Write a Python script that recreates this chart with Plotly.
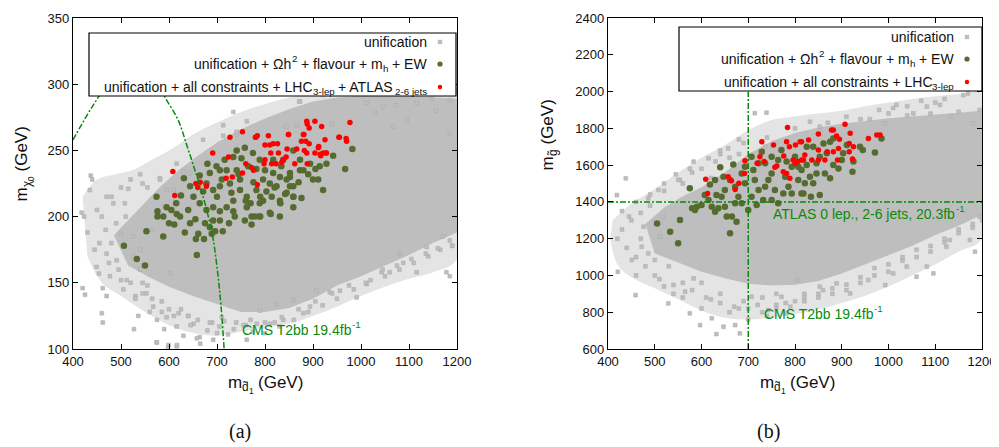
import plotly.graph_objects as go

# ---------------- Panel (a): m_d1 vs m_chi0 ----------------
# outline of the dense core of the "unification" cloud
a_core_x = [485, 540, 580, 620, 660, 700, 750, 800, 850, 900, 950, 1000, 1050, 1100, 1150, 1200,
            1200, 1150, 1100, 1050, 1000, 950, 900, 850, 800, 750, 700, 650, 600, 560, 515]
a_core_y = [186, 207, 222, 235, 246, 256, 266, 274, 281, 287, 290, 291, 292, 291, 290, 289,
            188, 180, 171, 163, 155, 148, 138, 131, 128, 128, 134, 140, 147, 154, 163]
# outline of the sparser halo of the cloud
a_halo_x = [420, 450, 490, 530, 570, 610, 650, 700, 750, 800, 850, 900, 950, 1000, 1050, 1100, 1150, 1200,
            1200, 1150, 1100, 1050, 1000, 950, 900, 850, 800, 750, 700, 650, 600, 550, 500, 460, 430]
a_halo_y = [215, 228, 232, 236, 244, 252, 262, 271, 279, 285, 290, 293, 296, 298, 300, 300, 300, 300,
            168, 158, 153, 147, 140, 132, 125, 119, 116, 113, 110, 112, 118, 128, 140, 150, 170]
# sparse "unification" points
a_grey_x = [423, 425, 454, 440, 462, 462, 418, 437, 420, 460, 449, 470, 484, 508, 515, 555, 500, 536, 527,
            574, 599, 616, 567, 595, 616, 651, 664, 692, 705, 730, 734, 741, 713, 671, 616, 581, 873, 845,
            602, 553, 512, 491, 477, 871, 1012, 1029, 1046, 1074, 1116, 1147, 1185, 1157, 1185, 1095, 1067,
            1185, 1178, 1116, 1088, 1060, 1043, 991, 956, 935, 894, 880, 859, 838, 810, 783, 790, 824, 907,
            1012, 1081, 1137, 1171, 762, 575, 598, 617, 658, 723, 762, 713, 741, 866, 939, 630, 581, 595, 644,
            1195, 1170, 1130, 1060, 980, 920, 1000, 1105, 1190, 640, 690, 760, 820, 545, 530, 585, 625,
            430, 445, 468, 480, 495, 505, 520, 530, 545, 560, 575, 590, 610, 630, 645, 665, 680, 700, 715,
            735, 755, 775, 800, 830, 860, 890, 920, 950, 985, 1020, 1050, 1080, 1110, 1140, 1165, 1190,
            1100, 1060, 1030, 1180, 480, 500, 520, 540, 460, 475, 540, 565, 590, 610,
            435, 450, 470, 490, 510, 525, 540, 555, 565, 585, 600, 620, 640, 660, 685, 710, 740, 770, 800,
            835, 870, 905, 940, 975, 1010, 1045, 1075, 1105, 1135, 1160, 1185, 1000, 960, 1120, 1150, 470,
            500, 455, 525, 545]
a_grey_y = [200, 141, 157, 228, 146, 120, 203, 231, 146, 127, 162, 172, 210, 210, 221, 222, 187, 125, 115,
            105, 103, 102, 132, 124, 117, 119, 109, 107, 117, 244, 279, 262, 261, 258, 240, 229, 287, 268,
            157, 142, 152, 167, 155, 287, 286, 279, 283, 284, 286, 289, 288, 280, 263, 273, 268,
            155, 158, 158, 165, 158, 158, 139, 144, 143, 132, 127, 137, 122, 119, 119, 129, 134, 144,
            149, 172, 177, 185, 107, 105, 101, 103, 108, 111, 272, 269, 264, 269, 270, 234, 228, 220, 233,
            295, 300, 296, 293, 297, 292, 294, 298, 178, 125, 120, 118, 120, 150, 140, 128, 130,
            188, 175, 190, 180, 160, 145, 150, 138, 142, 128, 122, 115, 125, 110, 118, 104, 114, 112, 121,
            115, 118, 113, 112, 117, 122, 128, 133, 138, 145, 152, 155, 160, 165, 170, 175, 178,
            302, 303, 299, 296, 215, 222, 228, 232, 200, 165, 175, 190, 208, 220,
            220, 205, 215, 195, 200, 170, 160, 148, 138, 136, 130, 127, 125, 122, 120, 124, 120, 122, 120,
            124, 130, 136, 142, 148, 150, 160, 163, 168, 172, 176, 182, 300, 296, 298, 299, 140,
            152, 180, 185, 225]
# unification + Omega h^2 + flavour + m_h + EW
a_green_x = [506, 533, 550, 553, 574, 576, 576, 588, 611, 616, 615, 633, 631, 658, 656, 661, 673, 689, 696,
             712, 725, 737, 758, 772, 788, 810, 831, 859, 832, 814, 803, 782, 762, 748, 734, 720, 706, 692,
             678, 664, 651, 644, 664, 685, 699, 716, 734, 751, 765, 782, 800, 817, 834, 852, 873, 859, 845,
             824, 796, 776, 748, 727, 706, 692, 671, 741, 720, 678, 692, 675, 734, 762, 789, 859, 873, 859,
             817, 789, 775, 758, 741, 706, 588, 595, 605, 623, 644, 685, 706, 982, 967, 942, 928, 921, 911,
             900, 876, 859, 852, 842, 831, 812, 796, 790, 772, 779, 852, 880, 894, 831, 810, 914, 838,
             640, 655, 700, 730, 760, 790, 820, 845, 870, 890, 905, 625, 600, 680, 710, 745, 770]
a_green_y = [178, 168, 163, 189, 215, 204, 200, 200, 194, 202, 210, 188, 229, 171, 183, 187, 183, 187, 189,
             189, 195, 200, 197, 200, 200, 203, 200, 207, 210, 215, 219, 220, 215, 220, 212, 207, 204, 207,
             205, 210, 215, 223, 231, 233, 238, 243, 245, 244, 238, 236, 235, 233, 238, 230, 235, 223, 218,
             223, 228, 226, 228, 225, 223, 220, 219, 235, 235, 225, 197, 195, 204, 207, 210, 215, 243, 250,
             243, 243, 248, 252, 250, 235, 185, 207, 205, 200, 195, 192, 197, 251, 236, 246, 240, 220, 228,
             228, 214, 215, 223, 217, 212, 202, 212, 200, 194, 200, 233, 235, 240, 230, 225, 238, 243,
             205, 198, 215, 218, 212, 215, 222, 228, 226, 232, 236, 216, 195, 240, 228, 232, 210]
# unification + all constraints + LHC_3-lep + ATLAS_2-6 jets
a_red_x = [608, 612, 656, 665, 678, 660, 691, 727, 753, 724, 719, 732, 760, 753, 772, 776, 784, 780, 784, 807,
           800, 810, 817, 826, 828, 812, 800, 798, 814, 823, 838, 844, 835, 849, 846, 866, 862, 881, 876, 885,
           892, 882, 887, 888, 904, 911, 915, 921, 927, 887, 904, 918, 954, 969, 888, 892, 955, 970, 977, 925,
           912, 916, 928, 781, 849, 880]
a_red_y = [234, 216, 225, 226, 223, 222, 248, 260, 264, 245, 229, 230, 240, 233, 237, 235, 224, 260, 261, 261,
           254, 254, 255, 255, 248, 248, 243, 240, 240, 240, 243, 245, 241, 262, 251, 251, 240, 262, 257, 257,
           255, 250, 248, 240, 248, 252, 247, 248, 248, 272, 272, 268, 260, 259, 270, 267, 260, 257, 271, 258,
           253, 246, 248, 260, 262, 262]
# CMS T2bb 19.4 fb^-1 exclusion contour
a_cms_x = [400, 430, 456, 490, 520, 550, 575, 592, 619, 637, 654, 668, 682, 692, 706, 715]
a_cms_y = [258, 277, 292, 310, 318, 315, 303, 290, 273, 254, 235, 219, 200, 183, 142, 99]

# ---------------- Panel (b): m_d1 vs m_gluino ----------------
b_core_x = [480, 520, 560, 600, 650, 700, 750, 800, 850, 900, 950, 1000, 1050, 1100, 1150, 1200,
            1200, 1150, 1100, 1050, 1000, 950, 900, 850, 800, 750, 700, 650, 600, 550, 500]
b_core_y = [1280, 1370, 1430, 1480, 1560, 1660, 1730, 1775, 1805, 1825, 1840, 1855, 1865, 1875, 1885, 1895,
            1330, 1270, 1220, 1160, 1110, 1060, 1010, 970, 950, 945, 955, 985, 1020, 1070, 1120]
b_halo_x = [410, 450, 500, 550, 600, 650, 700, 750, 800, 850, 900, 950, 1000, 1050, 1100, 1150, 1200,
            1200, 1150, 1100, 1050, 1000, 950, 900, 850, 800, 750, 700, 650, 600, 550, 500, 450, 420, 405]
b_halo_y = [1300, 1390, 1470, 1560, 1640, 1710, 1790, 1845, 1865, 1880, 1895, 1920, 1940, 1960, 1975, 1985, 1990,
            1200, 1130, 1060, 1000, 940, 890, 850, 815, 790, 770, 760, 770, 810, 870, 930, 990, 1060, 1200]
b_grey_x = [419, 438, 421, 451, 459, 476, 486, 508, 518, 529, 540, 554, 583, 583, 565, 575, 597, 615, 622,
            632, 647, 657, 672, 682, 714, 739, 736, 743, 707, 771, 804, 782, 486, 472, 511, 500, 1017, 1000,
            993, 1053, 1082, 1110, 1160, 1135, 1181, 910, 832, 853, 1185, 1174, 1124, 1096, 1082, 1060, 1039,
            1010, 993, 957, 918, 889, 853, 1131, 600, 640, 690, 730, 760, 820, 860, 620, 680, 740, 800, 870,
            940, 1195, 1150, 1090, 1040, 960,
            420, 440, 460, 470, 490, 510, 530, 545, 560, 580, 600, 620, 640, 660, 680, 700, 720, 740, 760, 780,
            800, 820, 850, 880, 910, 940, 970, 1000, 1030, 1060, 1090, 1120, 1150, 1180, 1200, 1040, 1070,
            1120, 1170, 430, 450, 470, 520, 560, 600, 630, 660, 690,
            430, 445, 460, 480, 500, 520, 540, 560, 580, 610, 640, 670, 700, 730, 760, 790, 820, 850, 880,
            910, 940, 970, 1000, 1030, 1060, 1090, 1120, 1150, 1180, 1195, 980, 1010, 1100, 460, 490, 520,
            550, 575, 640, 680]
b_grey_y = [1437, 1528, 1020, 1084, 893, 1265, 1419, 1465, 1320, 848, 948, 1519, 1619, 984, 912, 794, 730,
            1637, 767, 681, 721, 1691, 730, 685, 1882, 1885, 1700, 812, 884, 884, 975, 794, 1120, 1156, 1211,
            1084, 1927, 1881, 1827, 1881, 1918, 1927, 1981, 1863, 1827, 1863, 1836, 1809, 1129, 1193, 1156,
            1011, 1048, 993, 1048, 1011, 948, 975, 902, 957, 939, 1193, 960, 900, 860, 880, 840, 900, 920,
            1530, 1660, 1750, 1800, 1830, 1850, 1900, 1890, 1880, 1870, 1850,
            1200, 1150, 1000, 1340, 1380, 980, 1050, 1550, 880, 1560, 820, 870, 1660, 800, 820, 760, 840, 780,
            900, 850, 860, 880, 900, 930, 920, 960, 1000, 1020, 1080, 1100, 1130, 1180, 1230, 1260, 1300, 1920,
            1950, 1960, 1990, 1350, 1300, 1200, 1460, 1500, 1580, 1620, 1640, 1720,
            1250, 1320, 1100, 1050, 1000, 940, 900, 960, 920, 880, 850, 830, 820, 800, 820, 830, 860, 880, 900,
            950, 990, 1040, 1060, 1100, 1140, 1160, 1200, 1250, 1280, 1320, 1900, 1910, 1940, 1400, 1440, 1500,
            1520, 1580, 1680, 1740]
b_green_x = [505, 533, 550, 554, 575, 580, 590, 607, 618, 622, 629, 636, 640, 643, 650, 661, 654, 665, 675,
             668, 672, 679, 686, 693, 700, 707, 711, 714, 722, 729, 732, 736, 743, 750, 757, 764, 771, 779,
             786, 793, 800, 807, 814, 764, 750, 718, 686, 672, 650, 632, 615, 600, 586, 707, 722, 750, 782,
             807, 793, 775, 736, 693, 661, 647, 629, 985, 971, 945, 925, 923, 903, 900, 882, 893, 875, 853,
             834, 818, 846, 864, 832, 839, 821, 846, 875, 861, 839, 825, 868, 853, 911, 939, 882, 825, 814]
b_green_y = [1283, 1238, 1175, 1301, 1474, 1365, 1374, 1437, 1495, 1374, 1347, 1365, 1588, 1428, 1465, 1229,
             1320, 1320, 1292, 1604, 1483, 1428, 1555, 1501, 1356, 1428, 1573, 1519, 1465, 1673, 1410, 1610,
             1519, 1555, 1465, 1628, 1682, 1537, 1483, 1591, 1646, 1519, 1446, 1392, 1410, 1383, 1392, 1392,
             1374, 1437, 1410, 1383, 1356, 1646, 1610, 1646, 1619, 1591, 1446, 1446, 1483, 1591, 1519, 1537,
             1519, 1745, 1668, 1682, 1619, 1564, 1664, 1628, 1600, 1582, 1528, 1437, 1428, 1446, 1555, 1555,
             1537, 1501, 1501, 1610, 1727, 1718, 1700, 1700, 1664, 1646, 1709, 1700, 1745, 1600, 1573]
b_red_x = [784, 729, 754, 782, 788, 801, 811, 725, 734, 719, 693, 692, 757, 761, 776, 796, 800, 806, 814, 775,
           782, 789, 609, 657, 664, 680, 672, 613, 814, 829, 850, 878, 882, 907, 918, 889, 895, 916, 925, 957,
           975, 982, 893, 882, 869, 850, 836, 850, 864, 891, 923, 818, 821, 916]
b_red_y = [1805, 1727, 1709, 1727, 1700, 1709, 1727, 1646, 1619, 1610, 1624, 1555, 1588, 1595, 1649, 1628,
           1610, 1619, 1628, 1564, 1555, 1528, 1523, 1537, 1515, 1501, 1468, 1446, 1727, 1736, 1769, 1791,
           1791, 1822, 1773, 1758, 1740, 1718, 1700, 1745, 1764, 1764, 1691, 1673, 1673, 1682, 1628, 1628,
           1628, 1628, 1633, 1628, 1655, 1673]
# limits
b_cms_x = [700, 700]
b_cms_y = [600, 2000]
b_atlas_x = [400, 1200]
b_atlas_y = [1400, 1400]

x_ticks = [400, 500, 600, 700, 800, 900, 1000, 1100, 1200]
a_y_ticks = [100, 150, 200, 250, 300, 350]
b_y_ticks = [600, 800, 1000, 1200, 1400, 1600, 1800, 2000, 2200, 2400]

GREY = "#bebebe"
HALO = "#e4e4e4"
GREEN = "#556b2f"
RED = "#ff0000"
LINEGREEN = "#0a8a0a"

# the page body has an 8px margin; size the figure so it ends at the window edge
OFF = 8
W, H = 999 - OFF, 447 - OFF

fig = go.Figure()

def add_panel(xa, ya, halo_x, halo_y, core_x, core_y, gx, gy, grx, gry, rx, ry):
    fig.add_trace(go.Scatter(x=halo_x, y=halo_y, mode="lines", fill="toself", fillcolor=HALO,
                             line=dict(width=0, color=HALO, shape="spline"), xaxis=xa, yaxis=ya,
                             hoverinfo="skip"))
    fig.add_trace(go.Scatter(x=core_x, y=core_y, mode="lines", fill="toself", fillcolor=GREY,
                             line=dict(width=0, color=GREY), xaxis=xa, yaxis=ya, hoverinfo="skip"))
    fig.add_trace(go.Scatter(x=gx, y=gy, mode="markers", xaxis=xa, yaxis=ya, hoverinfo="skip",
                             marker=dict(symbol="square", size=3.8, color=GREY,
                                         line=dict(width=0.5, color="#a9a9a9"))))
    fig.add_trace(go.Scatter(x=grx, y=gry, mode="markers", xaxis=xa, yaxis=ya, hoverinfo="skip",
                             marker=dict(symbol="circle", size=6.5, color=GREEN, line=dict(width=0))))
    fig.add_trace(go.Scatter(x=rx, y=ry, mode="markers", xaxis=xa, yaxis=ya, hoverinfo="skip",
                             marker=dict(symbol="circle", size=5.5, color=RED, line=dict(width=0))))

add_panel("x", "y", a_halo_x, a_halo_y, a_core_x, a_core_y, a_grey_x, a_grey_y,
          a_green_x, a_green_y, a_red_x, a_red_y)
fig.add_trace(go.Scatter(x=a_cms_x, y=a_cms_y, mode="lines", xaxis="x", yaxis="y", hoverinfo="skip",
                         line=dict(color=LINEGREEN, width=1.5, dash="6px,2px,2px,2px", shape="spline")))

add_panel("x2", "y2", b_halo_x, b_halo_y, b_core_x, b_core_y, b_grey_x, b_grey_y,
          b_green_x, b_green_y, b_red_x, b_red_y)
fig.add_trace(go.Scatter(x=b_cms_x, y=b_cms_y, mode="lines", xaxis="x2", yaxis="y2", hoverinfo="skip",
                         line=dict(color=LINEGREEN, width=1.5, dash="6px,2px,2px,2px")))
fig.add_trace(go.Scatter(x=b_atlas_x, y=b_atlas_y, mode="lines", xaxis="x2", yaxis="y2", hoverinfo="skip",
                         line=dict(color=LINEGREEN, width=1.5, dash="6px,2px,2px,2px")))

FONT = "Liberation Sans, Arial, sans-serif"
axis_common = dict(showgrid=False, zeroline=False, showline=True, mirror="ticks", ticks="inside",
                   ticklen=5, tickwidth=1, linecolor="black", linewidth=1.3, tickcolor="black",
                   automargin=False, tickfont=dict(family=FONT, size=13, color="#111"))

def px(v):
    return (v - OFF) / W

def py(v):
    return 1 - (v - OFF) / H

fig.update_layout(
    width=W, height=H, autosize=False, showlegend=False,
    margin=dict(l=0, r=0, t=0, b=0, pad=0, autoexpand=False),
    paper_bgcolor="white", plot_bgcolor="white",
    xaxis=dict(domain=[px(73), px(457)], range=[400, 1200], tickvals=x_ticks, anchor="y", **axis_common),
    yaxis=dict(domain=[py(349), py(18)], range=[100, 350], tickvals=a_y_ticks, anchor="x", **axis_common),
    xaxis2=dict(domain=[px(608), px(982)], range=[400, 1200], tickvals=x_ticks, anchor="y2", **axis_common),
    yaxis2=dict(domain=[py(349), py(18)], range=[600, 2400], tickvals=b_y_ticks, anchor="x2", **axis_common),
)

shapes = []
annotations = []

# Arial / Liberation Sans advance widths (per 1000 em) used to lay out runs with sub/superscripts
AW = {" ": 278, "(": 333, ")": 333, "+": 584, ",": 278, "-": 333, ".": 278,
      "A": 667, "C": 722, "E": 667, "H": 722, "L": 556, "M": 833, "S": 667, "T": 611, "V": 667, "W": 944,
      "a": 556, "b": 556, "c": 500, "d": 556, "e": 556, "f": 278, "g": 556, "h": 556, "i": 222, "j": 222,
      "l": 222, "m": 833, "n": 556, "o": 556, "p": 556, "r": 333, "s": 500, "t": 278, "u": 556, "v": 500,
      "x": 500, "Ω": 768, "χ": 500, "\u0303": 0}
for _d in "0123456789":
    AW[_d] = 556

SIZES = {"n": 1.0, "sup": 0.7, "sub": 0.7, "subsub": 0.5}
SHIFT = {"n": 0.0, "sup": 0.36, "sub": -0.3, "subsub": -0.55}

def text_width(t, size):
    return sum(AW.get(c, 556) for c in t) / 1000.0 * size

def text_run(x, y, segs, size, align="left", color="#111", family=FONT, angle=0):
    items = []
    cur = 0.0
    for t, kind in segs:
        s = size * SIZES[kind]
        lead = len(t) - len(t.lstrip(" "))
        trail = len(t) - len(t.rstrip(" "))
        core = t.strip(" ")
        cur += lead * 0.278 * s
        items.append((core, s, cur, SHIFT[kind] * size))
        cur += text_width(core, s) + trail * 0.278 * s
    start = {"left": 0.0, "right": -cur, "center": -cur / 2.0}[align]
    for core, s, off, sh in items:
        ann = dict(xref="paper", yref="paper", x=px(x), y=py(y), text=core, showarrow=False,
                   borderpad=0, font=dict(family=family, size=s, color=color))
        if angle == 0:
            ann.update(xanchor="left", yanchor="middle", xshift=start + off, yshift=sh)
        else:
            ann.update(xanchor="center", yanchor="bottom", textangle=-90, yshift=start + off, xshift=-sh)
        annotations.append(ann)

def legend(x0, x1, y0, y1, rows, sym_x, text_right):
    shapes.append(dict(type="rect", xref="paper", yref="paper", x0=px(x0), x1=px(x1), y0=py(y1), y1=py(y0),
                       fillcolor="white", line=dict(color="black", width=1.2), layer="above"))
    for (ty, segs, kind) in rows:
        text_run(text_right, ty, segs, 14, align="right")
        if kind == "grey":
            r, col, sym = 2.2, GREY, "rect"
        elif kind == "green":
            r, col, sym = 2.6, GREEN, "circle"
        else:
            r, col, sym = 2.2, RED, "circle"
        shapes.append(dict(type=sym, xref="paper", yref="paper", xsizemode="pixel", ysizemode="pixel",
                           xanchor=px(sym_x), yanchor=py(ty), x0=-r, x1=r, y0=-r, y1=r,
                           fillcolor=col, line=dict(width=0), layer="above"))

row_uni = [("unification", "n")]
row_green = [("unification + Ωh", "n"), ("2", "sup"), (" + flavour + m", "n"), ("h", "sub"), (" + EW", "n")]

legend(89, 456, 33, 96, [
    (42, row_uni, "grey"),
    (64, row_green, "green"),
    (87, [("unification + all constraints + LHC", "n"), ("3-lep", "sub"), (" + ATLAS", "n"),
          ("2-6 jets", "sub")], "red"),
], 440, 426)

legend(679, 982, 27, 91, [
    (37, row_uni, "grey"),
    (59, row_green, "green"),
    (82, [("unification + all constraints + LHC", "n"), ("3-lep", "sub")], "red"),
], 967, 953)

# limit labels
text_run(241, 330, [("CMS T2bb 19.4fb", "n"), ("-1", "sup")], 14, color=LINEGREEN)
text_run(772, 214, [("ATLAS 0 lep., 2-6 jets, 20.3fb", "n"), ("-1", "sup")], 14, color=LINEGREEN)
text_run(763, 314, [("CMS T2bb 19.4fb", "n"), ("-1", "sup")], 14, color=LINEGREEN)

# axis titles
x_title = [("m", "n"), ("d\u0303", "sub"), ("1", "subsub"), (" (GeV)", "n")]
text_run(263, 382, x_title, 17, align="center")
text_run(795, 382, x_title, 17, align="center")
text_run(22, 167, [("m", "n"), ("χ", "sub"), ("0", "subsub"), (" (GeV)", "n")], 17, align="center", angle=-90)
text_run(548, 138, [("m", "n"), ("g\u0303", "sub"), (" (GeV)", "n")], 17, align="center", angle=-90)

# panel captions
for cx, cap in [(240, "(a)"), (768, "(b)")]:
    annotations.append(dict(xref="paper", yref="paper", x=px(cx), y=py(431), text=cap, showarrow=False,
                            xanchor="center", yanchor="middle",
                            font=dict(family="Liberation Serif, DejaVu Serif, serif", size=20, color="#111")))

fig.update_layout(shapes=shapes, annotations=annotations)
fig.write_html("out.html")
